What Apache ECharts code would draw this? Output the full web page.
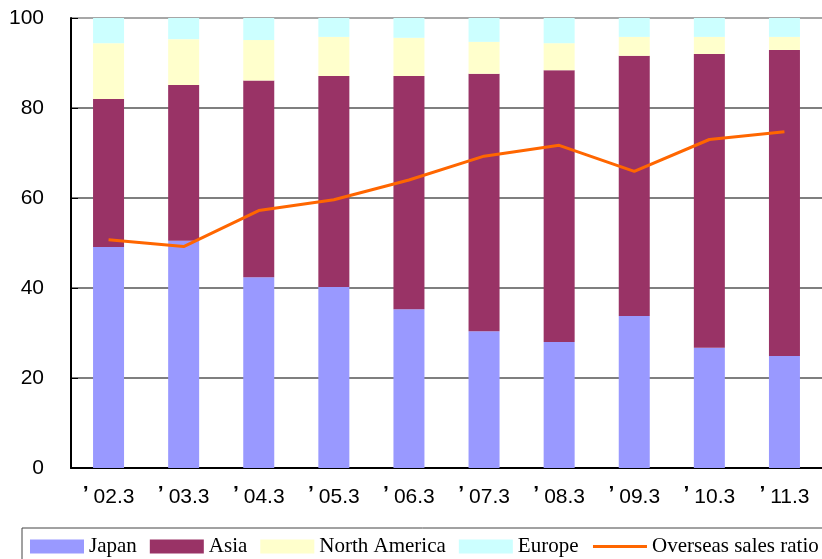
<!DOCTYPE html>
<html>
<head>
<meta charset="utf-8">
<script src="https://cdn.jsdelivr.net/npm/echarts@6/dist/echarts.min.js"></script>
<style>html,body{margin:0;padding:0;background:#fff;}#c{width:822px;height:559px;}</style>
</head>
<body>
<div id="c"></div>
<script>
var categories = ["’02.3","’03.3","’04.3","’05.3","’06.3","’07.3","’08.3","’09.3","’10.3","’11.3"];
var japan = [49.1, 50.5, 42.4, 40.2, 35.3, 30.4, 28.0, 33.8, 26.7, 24.9];
var asia = [32.9, 34.6, 43.7, 46.9, 51.8, 57.2, 60.4, 57.8, 65.3, 68.0];
var northAmerica = [12.4, 10.2, 9.0, 8.7, 8.5, 7.1, 6.0, 4.2, 3.8, 2.9];
var europe = [5.6, 4.7, 4.9, 4.2, 4.4, 5.3, 5.6, 4.2, 4.2, 4.2];
var overseasRatio = [50.7, 49.2, 57.2, 59.6, 64.0, 69.3, 71.7, 65.9, 73.0, 74.7];
var yTicks = [0, 20, 40, 60, 80, 100];

var chart = echarts.init(document.getElementById('c'));
var barBase = {type: 'bar', stack: 'total', barWidth: 31};
chart.setOption({
  animation: false,
  backgroundColor: '#fff',
  grid: {left: 71, top: 18, height: 450, width: 763, containLabel: false},
  legend: {
    left: 22, top: 528, width: 1200,
    padding: [8, 200, 30, 8],
    borderColor: '#444', borderWidth: 1,
    itemWidth: 54, itemHeight: 14, itemGap: 13,
    textStyle: {fontFamily: 'Liberation Serif', fontSize: 21, color: '#000'},
    data: [
      {name: 'Japan', icon: 'rect'},
      {name: 'Asia', icon: 'rect'},
      {name: 'North America', icon: 'rect'},
      {name: 'Europe', icon: 'rect'},
      {name: 'Overseas sales ratio', itemStyle: {opacity: 0}, lineStyle: {color: '#FF6600', width: 3}}
    ]
  },
  xAxis: {
    type: 'category', data: categories, boundaryGap: true,
    axisLine: {lineStyle: {color: '#000', width: 2}},
    axisTick: {inside: true, length: 7, lineStyle: {color: '#000', width: 1}},
    axisLabel: {
      interval: 0,
      fontFamily: 'Liberation Sans', fontSize: 21, color: '#000', margin: 16,
      formatter: function (v) { return '{a|' + v.charAt(0) + '}{b|' + v.slice(1) + '}'; },
      rich: {
        a: {fontFamily: 'Liberation Sans', fontSize: 21, fontWeight: 'bold', color: '#000', padding: [0, 5, 6, 0]},
        b: {fontFamily: 'Liberation Sans', fontSize: 21, color: '#000'}
      }
    }
  },
  yAxis: {
    type: 'value', min: yTicks[0], max: yTicks[yTicks.length - 1], interval: 20,
    axisLine: {show: true, lineStyle: {color: '#000', width: 2}},
    axisTick: {show: true, inside: true, length: 7, lineStyle: {color: '#000'}},
    axisLabel: {fontFamily: 'Liberation Sans', fontSize: 21, color: '#000', margin: 27},
    splitLine: {show: true, lineStyle: {color: ['#000', '#555', '#555', '#555', '#555', '#8a8a8a'], width: 1.5}}
  },
  series: [
    Object.assign({}, barBase, {name: 'Japan', data: japan, itemStyle: {color: '#9999FF'}}),
    Object.assign({}, barBase, {name: 'Asia', data: asia, itemStyle: {color: '#993366'}}),
    Object.assign({}, barBase, {name: 'North America', data: northAmerica, itemStyle: {color: '#FFFFCC'}}),
    Object.assign({}, barBase, {name: 'Europe', data: europe, itemStyle: {color: '#CCFFFF'}}),
    {name: 'Overseas sales ratio', type: 'line', data: overseasRatio, symbol: 'none', z: 5,
     lineStyle: {color: '#FF6600', width: 3}, itemStyle: {color: '#FF6600'}}
  ]
});
</script>
</body>
</html>
